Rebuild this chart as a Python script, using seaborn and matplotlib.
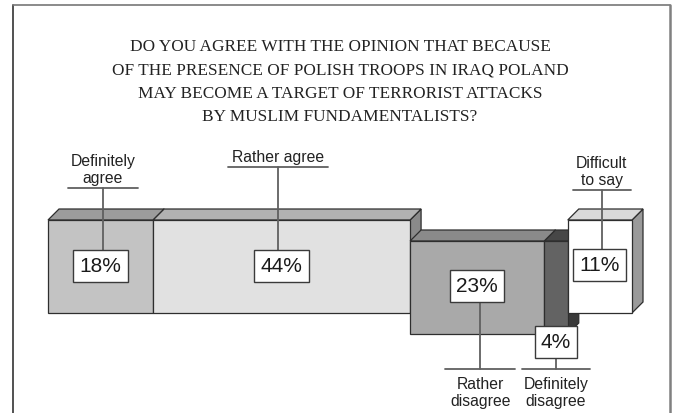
import matplotlib
matplotlib.use("Agg")
import matplotlib.pyplot as plt
from matplotlib.lines import Line2D
import seaborn as sns

# Survey answers, in the order they are stacked along the bar
categories = ["Definitely\nagree", "Rather agree", "Rather\ndisagree",
              "Definitely\ndisagree", "Difficult\nto say"]
shares = [18, 44, 23, 4, 11]
title_lines = [
    "DO YOU AGREE WITH THE OPINION THAT BECAUSE",
    "OF THE PRESENCE OF POLISH TROOPS IN IRAQ POLAND",
    "MAY BECOME A TARGET OF TERRORIST ATTACKS",
    "BY MUSLIM FUNDAMENTALISTS?",
]

sns.set_theme(style="white")
plt.rcParams["font.family"] = ["Liberation Sans", "DejaVu Sans"]

# face colours: front, top, side
front_cols = ["#c3c3c3", "#e1e1e1", "#a9a9a9", "#636363", "#ffffff"]
top_cols = ["#9c9c9c", "#b2b2b2", "#8a8a8a", "#474747", "#d9d9d9"]
side_cols = ["#808080", "#8a8a8a", "#707070", "#3a3a3a", "#9a9a9a"]
edge = "#2e2e2e"
lead = "#606060"

W, H = 677, 414
fig = plt.figure(figsize=(W / 100, H / 100), dpi=100)
ax = fig.add_axes([0, 0, 1, 1])
PX = 5.84            # pixels per percentage point
X0 = 48              # pixel where the bar starts
ax.set_xlim(-X0 / PX, (W - X0) / PX)
ax.set_ylim(H, 0)    # vertical axis runs top-down
ax.axis("off")

DX = 11 / PX         # depth of the 3-D faces, horizontal
DY = 11              # depth of the 3-D faces, vertical
BAR_H = 93
# the "disagree" pair sits lower than the rest
tops = [221, 221, 242, 242, 221]

lefts = []
acc = 0
for v in shares:
    lefts.append(acc)
    acc += v

for i, (v, x0, t) in enumerate(zip(shares, lefts, tops)):
    x1 = x0 + v
    b = t + BAR_H
    # side face
    ax.fill([x1, x1 + DX, x1 + DX, x1], [t, t - DY, b - DY, b],
            facecolor=side_cols[i], edgecolor=edge, lw=0.9, zorder=2 + 2 * i)
    # top face
    ax.fill([x0, x1, x1 + DX, x0 + DX], [t, t, t - DY, t - DY],
            facecolor=top_cols[i], edgecolor=edge, lw=0.9, zorder=2 + 2 * i)
    # front face
    ax.barh(t + BAR_H / 2, v, left=x0, height=BAR_H, color=front_cols[i],
            edgecolor=edge, lw=0.9, zorder=3 + 2 * i)

mids = [x0 + v / 2 for x0, v in zip(lefts, shares)]


def value_box(x, y, txt):
    ax.text(x, y, txt, ha="center", va="center", fontsize=15, color="#1a1a1a",
            zorder=30,
            bbox=dict(boxstyle="square,pad=0.3", facecolor="white",
                      edgecolor="#3a3a3a", lw=1.0))


def caption(x, y_line, y_text, y_start, half_w, txt, va):
    ax.plot([x, x], [y_start, y_line], color=lead, lw=1.3, zorder=25)
    ax.plot([x - half_w / PX, x + half_w / PX], [y_line, y_line],
            color=lead, lw=1.3, zorder=25)
    ax.text(x, y_text, txt, ha="center", va=va, fontsize=11.3, color="#222222",
            linespacing=1.2, zorder=25)


# values on the front faces
box_y = [267, 267, 287, 343, 266]
for i in [0, 1, 2, 4]:
    value_box(mids[i], box_y[i], f"{shares[i]}%")
value_box(mids[3], box_y[3], f"{shares[3]}%")

# captions above
caption(mids[0] + 0.4, 189, 186, 252, 35, categories[0], "bottom")
caption(mids[1] - 0.6, 168, 165, 252, 50, categories[1], "bottom")
caption(mids[4] + 0.3, 191, 188, 251, 29, categories[4], "bottom")
# captions below
caption(mids[2] + 0.5, 370, 377, 303, 35, categories[2], "top")
caption(mids[3], 370, 377, 359, 34, categories[3], "top")

# title
for k, line in enumerate(title_lines):
    fig.text(340 / W, 1 - (47 + 23.3 * k) / H, line, ha="center", va="center",
             fontsize=12.4, family="Liberation Serif", color="#222222")

# frame
fig.add_artist(Line2D([13 / W, 13 / W], [0, 1 - 6 / H], color="#333333",
                      lw=1.2, transform=fig.transFigure))
fig.add_artist(Line2D([13 / W, 670 / W], [1 - 6 / H, 1 - 6 / H],
                      color="#777777", lw=1.2, transform=fig.transFigure))
fig.add_artist(Line2D([670 / W, 670 / W], [0, 1 - 6 / H], color="#808080",
                      lw=1.8, transform=fig.transFigure))

fig.savefig("out.png", dpi=100)
